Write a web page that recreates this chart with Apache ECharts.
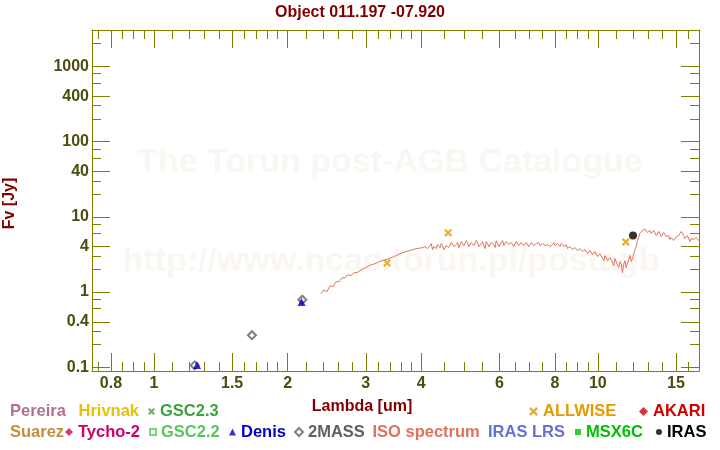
<!DOCTYPE html>
<html><head><meta charset="utf-8">
<script src="https://cdn.jsdelivr.net/npm/echarts@6/dist/echarts.min.js"></script>
<style>html,body{margin:0;padding:0;background:#fff}#c{width:720px;height:450px}</style>
</head><body><div id="c"></div>
<script>
// ---------- data ----------
const chartTitle = 'Object 011.197 -07.920';
const xName = 'Lambda [um]';
const yName = 'Fv [Jy]';
const xRange = [0.725, 16.9];
const yRange = [0.0893, 3035];
const xMajorTicks = [0.8, 1, 1.5, 2, 3, 4, 6, 8, 10, 15];
const xMinorTicks = [0.75, 0.85, 0.9, 0.95, 1.1, 1.2, 1.3, 1.4, 1.6, 1.7, 1.8, 1.9, 2.2, 2.4, 2.6, 2.8, 3.2, 3.4, 3.6, 3.8, 4.5, 5, 5.5, 6.5, 7, 7.5, 8.5, 9, 9.5, 11, 12, 13, 14, 16];
const yMajorTicks = [0.1, 0.4, 1, 4, 10, 40, 100, 400, 1000];
const yMinorTicks = [0.2, 0.3, 0.6, 0.8, 2, 3, 6, 8, 20, 30, 60, 80, 200, 300, 600, 800, 2000];

const denisWave = [1.25, 2.15];
const denisFlux = [0.107, 0.735];
const twomassWave = [1.235, 1.662, 2.159];
const twomassFlux = [0.106, 0.267, 0.79];
const allwiseWave = [3.35, 4.6, 11.56];
const allwiseFlux = [2.44, 6.12, 4.64];
const irasWave = [12.0];
const irasFlux = [5.63];

const isoWave = [
 2.378, 2.415, 2.453, 2.492, 2.531, 2.570, 2.611, 2.652, 2.693, 2.736, 2.779, 2.822, 2.866, 2.911, 2.957, 3.003, 3.050, 3.098, 3.147, 3.196, 3.246, 3.297, 3.349, 3.401, 3.455, 3.509, 3.564, 3.620, 3.677, 3.734, 3.793, 3.852, 3.913, 3.974, 4.036,
 4.080, 4.107, 4.133, 4.160, 4.187, 4.214, 4.242, 4.270, 4.297, 4.325, 4.353, 4.381, 4.410, 4.439, 4.468, 4.497, 4.526, 4.555, 4.585, 4.615,
 4.645, 4.675, 4.706, 4.737, 4.767, 4.798, 4.830, 4.861, 4.893, 4.925, 4.957, 4.989, 5.021, 5.054, 5.087, 5.120, 5.153, 5.187, 5.220, 5.254,
 5.289, 5.323, 5.358, 5.393, 5.428, 5.463, 5.498, 5.534, 5.570, 5.606, 5.643, 5.680, 5.717, 5.754, 5.791, 5.829, 5.867, 5.905, 5.944, 5.983,
 6.021, 6.060, 6.100, 6.140, 6.179, 6.219, 6.260, 6.301, 6.342, 6.383, 6.424, 6.466, 6.508, 6.550, 6.593, 6.636, 6.679, 6.722, 6.766, 6.810,
 6.855, 6.900, 6.944, 6.989, 7.035, 7.081, 7.127, 7.173, 7.220, 7.267, 7.314, 7.362, 7.409, 7.457, 7.506, 7.555, 7.604, 7.653, 7.703, 7.753,
 7.804, 7.855, 7.906, 7.957, 8.009, 8.061, 8.113, 8.166, 8.219, 8.272, 8.326, 8.380, 8.435, 8.490, 8.545, 8.601, 8.656, 8.712, 8.769, 8.826,
 8.884, 8.942, 9.000, 9.059, 9.117, 9.176, 9.236, 9.296, 9.357, 9.418, 9.479, 9.541, 9.602, 9.664, 9.728, 9.791, 9.855, 9.919, 9.983, 10.05,
 10.11, 10.18, 10.25, 10.32, 10.38, 10.45, 10.52, 10.59, 10.65, 10.72, 10.79, 10.86, 10.93, 11.00, 11.07, 11.14, 11.22, 11.29, 11.36, 11.43,
 11.51, 11.58, 11.66, 11.74, 11.81, 11.89, 11.97, 12.05, 12.12, 12.20, 12.28, 12.36, 12.44, 12.52, 12.60, 12.68, 12.77, 12.85, 12.93, 13.01,
 13.10, 13.19, 13.27, 13.36, 13.45, 13.54, 13.62, 13.71, 13.80, 13.89, 13.98, 14.07, 14.16, 14.25, 14.35, 14.44, 14.53, 14.62, 14.72, 14.82,
 14.92, 15.02, 15.11, 15.21, 15.31, 15.41, 15.51, 15.61, 15.71, 15.81, 15.91, 16.01, 16.12, 16.22, 16.33, 16.44, 16.55, 16.66, 16.76, 16.87, 16.98
];
const isoFlux = [
 0.95, 1.07, 1.01, 1.21, 1.18, 1.37, 1.37, 1.55, 1.55, 1.70, 1.65, 1.81, 1.81, 1.92, 2.05, 2.11, 2.24, 2.31, 2.38, 2.48, 2.59, 2.65, 2.72, 2.82, 2.92, 3.05, 3.19, 3.32, 3.42, 3.50, 3.60, 3.70, 3.78, 3.84, 3.90,
 4.02, 4.27, 3.78, 3.90, 4.14, 4.41, 3.66, 4.02, 4.02, 3.78, 4.27, 4.14, 3.90, 4.41, 4.14, 3.66, 3.78, 4.14, 4.27, 3.90,
 4.02, 4.54, 4.41, 4.02, 3.90, 4.27, 4.54, 3.90, 4.14, 4.69, 4.98, 4.14, 4.02, 4.83, 4.54, 4.02, 4.14, 4.54, 4.69, 4.14,
 3.90, 4.83, 4.54, 4.02, 4.27, 4.41, 4.69, 4.14, 3.78, 4.69, 4.41, 4.02, 4.14, 4.54, 4.69, 4.27, 3.90, 4.83, 4.41, 4.02,
 4.27, 4.54, 4.83, 4.14, 4.14, 4.69, 4.54, 4.27, 4.02, 4.54, 4.69, 4.02, 4.27, 4.69, 4.54, 4.14, 4.14, 4.54, 4.41, 4.14,
 4.02, 4.54, 4.41, 4.02, 4.14, 4.54, 4.41, 4.14, 4.02, 4.41, 4.27, 4.54, 4.14, 4.14, 4.41, 4.41, 4.14, 4.02, 4.27, 4.41,
 4.02, 4.14, 4.27, 4.54, 4.14, 4.14, 4.41, 4.27, 4.02, 4.41, 4.27, 4.02, 4.02, 4.27, 3.78, 3.90, 4.02, 4.14, 3.66, 3.78,
 3.90, 4.02, 3.55, 3.55, 3.78, 3.90, 3.45, 3.45, 3.66, 3.78, 3.24, 3.34, 3.55, 3.55, 3.14, 3.05, 3.45, 3.34, 2.96, 2.87,
 3.24, 3.14, 2.78, 2.61, 3.05, 2.96, 2.61, 2.46, 2.87, 2.70, 2.46, 2.24, 2.78, 2.54, 2.31, 2.11, 2.54, 2.38, 1.81, 2.31,
 2.61, 2.11, 2.24, 2.70, 3.05, 2.54, 2.78, 3.24, 3.66, 4.02, 4.83, 4.98, 5.99, 5.81, 6.57, 6.77, 6.87, 6.57, 6.18, 6.18,
 6.57, 5.99, 5.99, 6.57, 6.37, 5.63, 5.81, 6.37, 6.18, 5.46, 5.63, 6.18, 5.99, 5.46, 5.30, 5.63, 4.98, 5.30, 5.30, 4.83,
 4.83, 5.46, 5.30, 5.63, 5.99, 6.37, 6.77, 5.63, 5.14, 4.98, 5.63, 5.30, 4.69, 5.14, 5.46, 4.98, 4.83, 5.30, 5.30, 4.83, 4.98
];

// legend entries
const legendNames = ['Pereira','Hrivnak','GSC2.3','ALLWISE','AKARI','Suarez','Tycho-2','GSC2.2','Denis','2MASS','ISO spectrum','IRAS LRS','MSX6C','IRAS'];
const legendColors = ['#b07090','#e6c400','#3fa03f','#e39b00','#d00000','#c08f40','#d0006a','#5cc45c','#0000c8','#606060','#e2725b','#6670d8','#00c000','#000000'];

// ---------- build ----------
const L = Math.log10;
const olive = '#808000';
const tickLabelColor = '#4d4d10';
const darkRed = '#800000';
const font = '"Liberation Sans", Arial, Helvetica, sans-serif';
const crossPath = 'path://M0,2L2,0L5,3L8,0L10,2L7,5L10,8L8,10L5,7L2,10L0,8L3,5Z';

const icons = {
  'Pereira':['none',1,4,403], 'Hrivnak':['none',1,72.5,403], 'GSC2.3':[crossPath,7,148,403],
  'ALLWISE':[crossPath,9,529,403], 'AKARI':['diamond',9,639,403],
  'Suarez':['none',1,4,423.5], 'Tycho-2':['diamond',8,65,423.5], 'GSC2.2':['emptyRect',6,149,423.5],
  'Denis':['triangle',7,229,423.5], '2MASS':['emptyDiamond',8,294,423.5], 'ISO spectrum':['none',1,366.5,423.5],
  'IRAS LRS':['none',1,482,423.5], 'MSX6C':['rect',6,575,423.5], 'IRAS':['circle',6,656,423.5]
};

function fmt(v) { return String(parseFloat(Math.pow(10, v).toPrecision(4))); }

function tickAxis(pos, range, vals, len, line, labels, extra) {
  const a = {
    type: 'value', position: pos, min: L(range[0]), max: L(range[1]),
    axisLine: { show: line, onZero: false, lineStyle: { color: olive, width: 1 } },
    axisTick: { show: true, inside: true, length: len, customValues: vals.map(L), lineStyle: { color: olive, width: 1 } },
    axisLabel: labels ? { show: true, customValues: vals.map(L), formatter: fmt, color: tickLabelColor, fontSize: 16, fontWeight: 'bold', fontFamily: font, margin: pos === 'bottom' ? 5 : 3 } : { show: false },
    splitLine: { show: false }, minorTick: { show: false }
  };
  return Object.assign(a, extra || {});
}

const pairs = (w, f) => w.map((x, i) => [x, f[i]]);

const seriesList = [
  { name: 'ISO spectrum', type: 'line', data: pairs(isoWave, isoFlux), showSymbol: false, symbol: 'none',
    lineStyle: { color: legendColors[10], width: 1 }, itemStyle: { color: legendColors[10] }, z: 3, clip: true },
  { name: '2MASS', type: 'scatter', data: pairs(twomassWave, twomassFlux), symbol: 'emptyDiamond', symbolSize: 8,
    itemStyle: { color: legendColors[9], borderWidth: 1.5 }, z: 4 },
  { name: 'Denis', type: 'scatter', data: pairs(denisWave, denisFlux), symbol: 'triangle', symbolSize: 8,
    itemStyle: { color: legendColors[8] }, z: 5 },
  { name: 'ALLWISE', type: 'scatter', data: pairs(allwiseWave, allwiseFlux), symbol: crossPath, symbolSize: 8,
    itemStyle: { color: legendColors[3] }, z: 5 },
  { name: 'IRAS', type: 'scatter', data: pairs(irasWave, irasFlux), symbol: 'circle', symbolSize: 8,
    itemStyle: { color: legendColors[13] }, z: 5 }
];
legendNames.forEach((n, i) => {
  if (!seriesList.find(s => s.name === n)) {
    seriesList.push({ name: n, type: 'scatter', data: [], symbol: icons[n][0], itemStyle: { color: legendColors[i] } });
  }
});

const legends = legendNames.map((n, i) => {
  const ic = icons[n];
  return {
    data: [{ name: n, icon: ic[0] }], left: ic[2], top: ic[3], padding: 0,
    itemWidth: ic[1], itemHeight: ic[1], itemGap: 0, selectedMode: false,
    textStyle: { color: legendColors[i], fontSize: 16.5, fontWeight: 'bold', fontFamily: font }
  };
});

const option = {
  animation: false,
  backgroundColor: '#ffffff',
  textStyle: { fontFamily: font },
  title: { text: chartTitle, left: 'center', top: 5, padding: 0,
    textStyle: { color: darkRed, fontSize: 16, fontWeight: 'bold', fontFamily: font } },
  grid: { left: 92, right: 21, top: 30, bottom: 79, containLabel: false, outerBoundsMode: 'none' },
  legend: legends,
  graphic: [
    { type: 'text', x: 390, y: 163, z: 0, silent: true,
      style: { text: 'The Torun post-AGB Catalogue', fill: '#faf6f2', font: 'bold 34px ' + font, align: 'center', verticalAlign: 'middle' } },
    { type: 'text', x: 391, y: 262, z: 0, silent: true,
      style: { text: 'http://www.ncac.torun.pl/postagb', fill: '#faf6f2', font: 'bold 34px ' + font, align: 'center', verticalAlign: 'middle' } }
  ],
  xAxis: [
    { type: 'log', logBase: 10, min: xRange[0], max: xRange[1], show: false, axisLine: { onZero: false } },
    tickAxis('bottom', xRange, xMajorTicks, 18, true, true, {
      name: xName, nameLocation: 'middle', nameGap: 28,
      nameTextStyle: { color: darkRed, fontSize: 16, fontWeight: 'bold', fontFamily: font, padding: [0, 67, 0, 0] } }),
    tickAxis('bottom', xRange, xMinorTicks, 9, false, false),
    tickAxis('top', xRange, xMajorTicks, 18, true, false),
    tickAxis('top', xRange, xMinorTicks, 9, false, false)
  ],
  yAxis: [
    { type: 'log', logBase: 10, min: yRange[0], max: yRange[1], show: false, axisLine: { onZero: false } },
    tickAxis('left', yRange, yMajorTicks, 18, true, true, {
      name: yName, nameLocation: 'middle', nameGap: 74,
      nameTextStyle: { color: darkRed, fontSize: 16, fontWeight: 'bold', fontFamily: font, padding: [0, 6, 0, 0] } }),
    tickAxis('left', yRange, yMinorTicks, 9, false, false),
    tickAxis('right', yRange, yMajorTicks, 18, true, false),
    tickAxis('right', yRange, yMinorTicks, 9, false, false)
  ],
  series: seriesList.map(s => Object.assign({ xAxisIndex: 0, yAxisIndex: 0 }, s))
};

const chart = echarts.init(document.getElementById('c'), null, { renderer: 'canvas', width: 720, height: 450 });
chart.setOption(option);
</script>
</body></html>
